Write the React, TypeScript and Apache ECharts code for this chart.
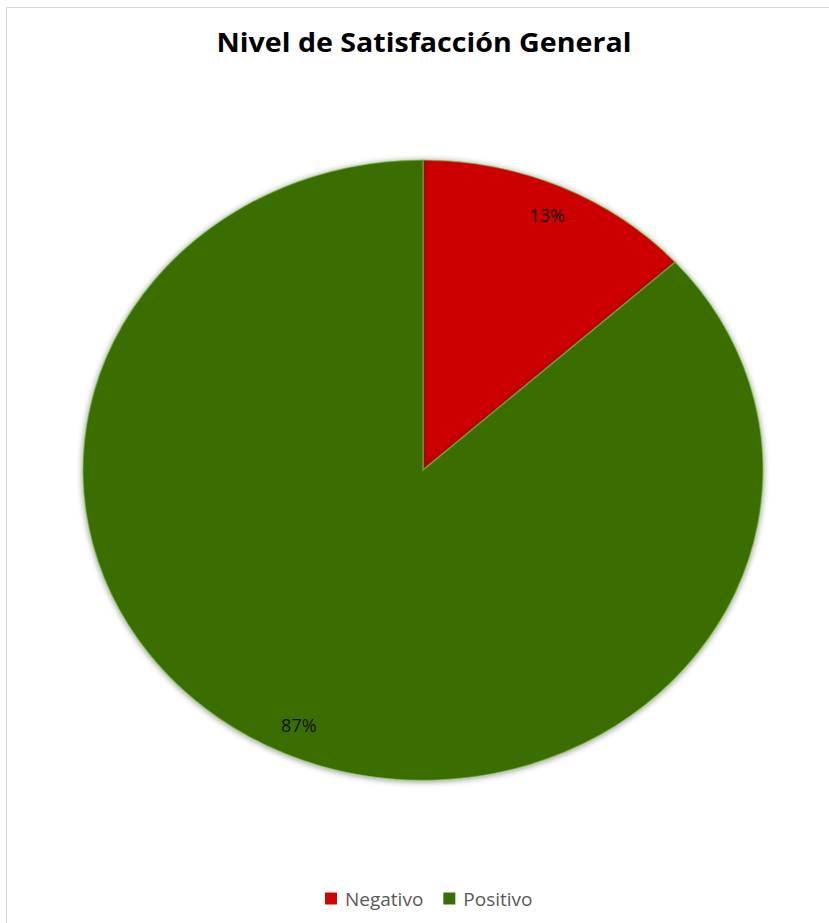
import React, { useEffect, useRef } from "react";
import * as echarts from "echarts";

const titleText = "Nivel de Satisfacción General";
const categories = ["Negativo", "Positivo"];
const values = [13.3, 86.7];
const colors = ["#CC0606", "#3B6E06"];

export default function App() {
  const ref = useRef<HTMLDivElement>(null);
  useEffect(() => {
    if (!ref.current) return;
    const chart = echarts.init(ref.current, null, { renderer: "svg" });
    const total = values.reduce((a, b) => a + b, 0);
    const starts: number[] = [];
    let acc = 0;
    values.forEach((v) => {
      starts.push(acc);
      acc += v;
    });
    const cx = 423;
    const cy = 470;
    const rx = 340;
    const ry = 310;

    const series = categories.map((name, i) => ({
      type: "custom",
      name,
      coordinateSystem: "none",
      itemStyle: { color: colors[i] },
      data: [values[i]],
      renderItem: (params: any, api: any) => {
        const v = api.value(0);
        const s = starts[i] / total;
        const e = (starts[i] + v) / total;
        const a0 = -Math.PI / 2 + s * Math.PI * 2;
        const a1 = -Math.PI / 2 + e * Math.PI * 2;
        const mid = (a0 + a1) / 2;
        const pct = Math.round((v / total) * 100) + "%";
        return {
          type: "group",
          children: [
            {
              type: "sector",
              shape: { cx, cy, r: rx, r0: 0, startAngle: a0, endAngle: a1, clockwise: true },
              originX: cx,
              originY: cy,
              scaleY: ry / rx,
              style: {
                fill: colors[i],
                stroke: "rgba(120,190,60,0.55)",
                lineWidth: 1.5,
                strokeNoScale: true,
                shadowBlur: 6,
                shadowColor: "rgba(0,0,0,0.45)",
                shadowOffsetX: 0,
                shadowOffsetY: 1,
              },
            },
            {
              type: "text",
              x: cx + rx * 0.9 * Math.cos(mid),
              y: cy + ry * 0.9 * Math.sin(mid),
              style: {
                text: pct,
                fill: "#111111",
                font: "18px 'Open Sans'",
                align: "center",
                verticalAlign: "middle",
              },
            },
          ],
        };
      },
    }));

    chart.setOption({
      animation: false,
      backgroundColor: "#ffffff",
      legend: {
        data: categories,
        left: 320,
        top: 884,
        icon: "rect",
        itemWidth: 12,
        itemHeight: 12,
        itemGap: 20,
        textStyle: {
          fontFamily: "Open Sans",
          fontSize: 19,
          color: "#595959",
          padding: [0, 0, 0, 3],
        },
      },
      graphic: [
        {
          type: "rect",
          shape: { x: 6.5, y: 7.5, width: 900, height: 1000 },
          style: { fill: "none", stroke: "#d9d9d9", lineWidth: 1 },
          silent: true,
        },
        {
          type: "text",
          x: 424,
          y: 42,
          scaleX: 1.1,
          style: {
            text: titleText,
            font: "bold 26px 'Open Sans'",
            fill: "#000000",
            align: "center",
            verticalAlign: "middle",
          },
        },
      ],
      series,
    });
    return () => chart.dispose();
  }, []);
  return (
    <div
      ref={ref}
      style={{ position: "fixed", left: 0, top: 0, width: 829, height: 923 }}
    />
  );
}
